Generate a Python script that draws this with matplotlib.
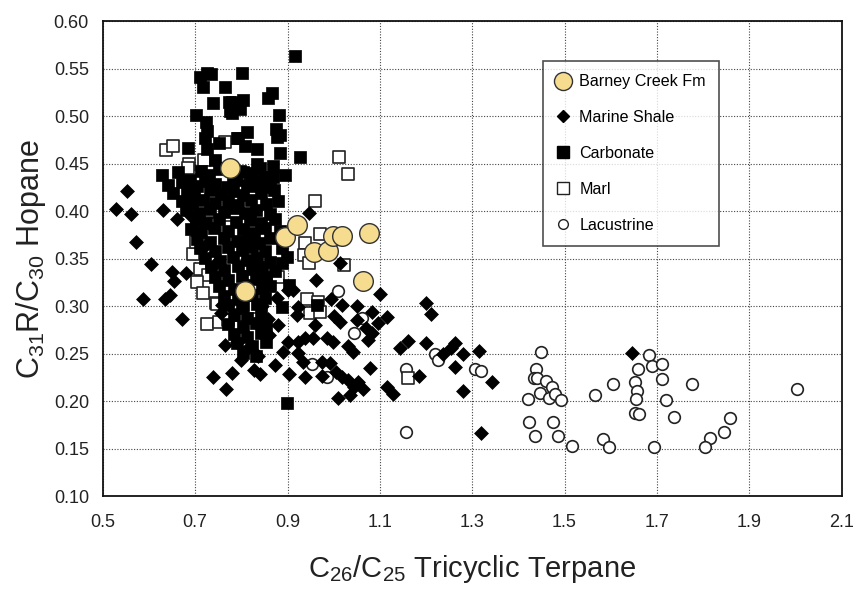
import matplotlib
matplotlib.use("Agg")
import matplotlib.pyplot as plt
from matplotlib.lines import Line2D

plt.rcParams['font.family'] = ['Liberation Sans', 'DejaVu Sans']
plt.rcParams['mathtext.fontset'] = 'custom'
plt.rcParams['mathtext.rm'] = 'Liberation Sans'
plt.rcParams['mathtext.it'] = 'Liberation Sans:italic'
plt.rcParams['mathtext.default'] = 'regular'

# ---- Data: C26/C25 tricyclic terpane vs C31R/C30 hopane ----
barney_x = [0.775, 0.807, 0.894, 0.920, 0.957, 0.987, 0.998, 1.017, 1.076, 1.063]
barney_y = [0.446, 0.316, 0.373, 0.386, 0.357, 0.358, 0.374, 0.374, 0.377, 0.327]

shale_x = [0.528, 0.552, 0.561, 0.571, 0.604, 0.649, 0.680, 0.587, 0.634, 0.645, 0.671,
           0.764, 0.738, 0.779, 0.766, 0.758, 0.755, 0.630, 0.660, 0.655,
           1.100, 1.201, 1.210, 1.115, 1.097, 1.084, 1.143, 1.160, 1.201, 1.255, 1.262,
           1.281, 1.314, 1.236, 1.262, 1.184, 1.115, 1.128, 1.342, 1.281, 1.320, 1.647,
           0.946, 1.013, 0.961, 0.911, 0.900, 0.877, 0.994, 1.050, 1.019, 0.922, 0.857,
           0.920, 1.013, 1.050, 1.071, 1.084, 0.937, 0.955, 0.985, 0.998, 0.900, 0.922,
           0.890, 0.922, 0.933, 0.974, 0.991, 1.006, 1.019, 1.030, 1.045, 1.052, 1.063,
           1.074, 1.078, 1.009, 1.035, 0.937, 0.974, 0.903, 0.872, 0.840, 0.827,
           1.030, 1.042, 0.790, 0.812, 0.835, 0.800, 0.860, 0.880, 0.845, 0.960, 1.000,
           0.700, 0.720, 0.745, 0.690]
shale_y = [0.402, 0.421, 0.397, 0.368, 0.344, 0.336, 0.335, 0.308, 0.308, 0.312, 0.286,
           0.259, 0.225, 0.230, 0.213, 0.301, 0.293, 0.401, 0.392, 0.326,
           0.313, 0.303, 0.292, 0.289, 0.282, 0.294, 0.256, 0.263, 0.261, 0.256, 0.261,
           0.250, 0.253, 0.250, 0.236, 0.226, 0.215, 0.208, 0.220, 0.211, 0.166, 0.251,
           0.398, 0.346, 0.328, 0.317, 0.317, 0.309, 0.308, 0.300, 0.301, 0.299, 0.287,
           0.291, 0.283, 0.285, 0.277, 0.272, 0.266, 0.267, 0.267, 0.262, 0.262, 0.262,
           0.252, 0.251, 0.241, 0.241, 0.240, 0.231, 0.225, 0.222, 0.215, 0.220, 0.213,
           0.264, 0.235, 0.203, 0.206, 0.225, 0.227, 0.229, 0.238, 0.229, 0.233,
           0.258, 0.252, 0.262, 0.255, 0.248, 0.243, 0.270, 0.280, 0.300, 0.280, 0.290,
           0.380, 0.362, 0.345, 0.395]

carb_x = [0.916, 0.710, 0.725, 0.734, 0.716, 0.764, 0.738, 0.773, 0.775, 0.701, 0.723,
          0.725, 0.684, 0.721, 0.751, 0.790, 0.725, 0.742, 0.766, 0.801, 0.866, 0.857,
          0.803, 0.779, 0.797, 0.779, 0.881, 0.874, 0.883, 0.877, 0.812, 0.792, 0.807,
          0.833, 0.883, 0.833, 0.840, 0.868, 0.926, 0.803, 0.818, 0.894, 0.868, 0.829,
          0.851, 0.898,
          0.628, 0.662, 0.688, 0.712, 0.731, 0.752, 0.781, 0.798, 0.823, 0.848,
          0.641, 0.671, 0.703, 0.722, 0.744, 0.768, 0.789, 0.812, 0.834, 0.862,
          0.652, 0.683, 0.698, 0.733, 0.757, 0.781, 0.804, 0.842, 0.871,
          0.672, 0.693, 0.718, 0.743, 0.771, 0.792, 0.821, 0.853, 0.879,
          0.681, 0.709, 0.733, 0.762, 0.784, 0.808, 0.832, 0.861,
          0.702, 0.724, 0.751, 0.788, 0.819, 0.843, 0.872,
          0.692, 0.713, 0.741, 0.772, 0.803, 0.828, 0.851, 0.884,
          0.704, 0.732, 0.763, 0.791, 0.814, 0.838, 0.861,
          0.711, 0.744, 0.772, 0.801, 0.822, 0.852, 0.887,
          0.722, 0.753, 0.781, 0.812, 0.834, 0.861, 0.887,
          0.734, 0.762, 0.793, 0.822, 0.844, 0.872,
          0.743, 0.771, 0.802, 0.831, 0.853,
          0.752, 0.783, 0.811, 0.844, 0.861, 0.903,
          0.762, 0.793, 0.822, 0.851,
          0.771, 0.802, 0.834, 0.887, 0.963, 0.803,
          0.783, 0.813, 0.842,
          0.772, 0.804, 0.831, 0.854,
          0.783, 0.812, 0.843,
          0.791, 0.822, 0.853,
          0.803, 0.832, 0.898]
carb_y = [0.563, 0.541, 0.546, 0.545, 0.531, 0.531, 0.514, 0.515, 0.506, 0.501, 0.494,
          0.485, 0.467, 0.477, 0.472, 0.477, 0.466, 0.454, 0.445, 0.546, 0.524, 0.519,
          0.517, 0.515, 0.508, 0.503, 0.501, 0.487, 0.480, 0.478, 0.483, 0.477, 0.469,
          0.466, 0.461, 0.450, 0.446, 0.448, 0.457, 0.441, 0.440, 0.438, 0.436, 0.427,
          0.425, 0.352,
          0.438, 0.441, 0.433, 0.442, 0.438, 0.444, 0.437, 0.442, 0.439, 0.436,
          0.428, 0.431, 0.427, 0.432, 0.429, 0.426, 0.433, 0.428, 0.431, 0.427,
          0.419, 0.421, 0.417, 0.422, 0.418, 0.421, 0.417, 0.419, 0.422,
          0.411, 0.408, 0.412, 0.409, 0.411, 0.407, 0.412, 0.408, 0.411,
          0.401, 0.398, 0.402, 0.399, 0.403, 0.398, 0.401, 0.397,
          0.391, 0.388, 0.392, 0.389, 0.391, 0.388, 0.392,
          0.381, 0.378, 0.382, 0.379, 0.381, 0.377, 0.382, 0.379,
          0.371, 0.368, 0.372, 0.369, 0.371, 0.367, 0.372,
          0.361, 0.358, 0.362, 0.359, 0.362, 0.358, 0.361,
          0.351, 0.348, 0.352, 0.349, 0.351, 0.347, 0.346,
          0.341, 0.338, 0.342, 0.339, 0.341, 0.337,
          0.331, 0.328, 0.332, 0.329, 0.331,
          0.321, 0.318, 0.322, 0.319, 0.321, 0.322,
          0.311, 0.308, 0.312, 0.309,
          0.301, 0.298, 0.302, 0.299, 0.301, 0.301,
          0.291, 0.288, 0.292,
          0.281, 0.278, 0.282, 0.279,
          0.271, 0.268, 0.272,
          0.261, 0.258, 0.262,
          0.251, 0.248, 0.198]

marl_x = [0.636, 0.652, 0.686, 0.684, 0.719, 0.764, 1.011, 1.032, 0.695, 0.701, 0.710,
          0.727, 0.703, 0.716, 0.745, 0.725, 0.740, 0.749, 0.727, 0.742, 0.768, 0.959,
          0.970, 0.937, 0.935, 0.946, 1.022, 0.879, 0.942, 0.965, 0.822, 0.792, 0.948,
          0.970, 0.814, 0.751, 0.771, 0.747, 1.160]
marl_y = [0.465, 0.469, 0.450, 0.446, 0.454, 0.473, 0.457, 0.439, 0.355, 0.368, 0.339,
          0.333, 0.325, 0.314, 0.303, 0.281, 0.349, 0.339, 0.388, 0.387, 0.383, 0.411,
          0.376, 0.367, 0.354, 0.346, 0.343, 0.331, 0.308, 0.304, 0.299, 0.291, 0.293,
          0.294, 0.343, 0.283, 0.285, 0.302, 0.224]

lac_x = [1.156, 1.156, 1.219, 1.225, 1.307, 1.320, 1.009, 1.061, 1.045, 0.952, 0.985,
         1.450, 1.439, 1.433, 1.441, 1.459, 1.472, 1.446, 1.467, 1.480, 1.493, 1.420,
         1.424, 1.474, 1.435, 1.485, 1.517, 1.565, 1.606, 1.584, 1.597, 1.682, 1.690,
         1.710, 1.660, 1.652, 1.658, 1.654, 1.652, 1.662, 1.710, 1.719, 1.738, 1.693,
         1.777, 2.004, 1.859, 1.846, 1.814, 1.805]
lac_y = [0.168, 0.234, 0.250, 0.243, 0.234, 0.232, 0.316, 0.288, 0.272, 0.239, 0.225,
         0.252, 0.234, 0.224, 0.224, 0.221, 0.215, 0.209, 0.203, 0.207, 0.201, 0.202,
         0.178, 0.178, 0.163, 0.163, 0.153, 0.206, 0.218, 0.160, 0.152, 0.249, 0.237,
         0.239, 0.234, 0.220, 0.211, 0.202, 0.187, 0.186, 0.223, 0.201, 0.183, 0.152,
         0.218, 0.213, 0.182, 0.167, 0.161, 0.152]

x_ticks = [0.5, 0.7, 0.9, 1.1, 1.3, 1.5, 1.7, 1.9, 2.1]
y_ticks = [0.10, 0.15, 0.20, 0.25, 0.30, 0.35, 0.40, 0.45, 0.50, 0.55, 0.60]

fig = plt.figure(figsize=(8.57, 5.92), dpi=100)
ax = fig.add_axes([0.120, 0.162, 0.862, 0.802])

ax.scatter(lac_x, lac_y, s=70, marker='o', facecolors='white', edgecolors='#222222',
           linewidths=1.2, zorder=3)
ax.scatter(marl_x, marl_y, s=70, marker='s', facecolors='white', edgecolors='#222222',
           linewidths=1.2, zorder=3)
ax.scatter(carb_x, carb_y, s=75, marker='s', facecolors='black', edgecolors='black',
           linewidths=0.5, zorder=4)
ax.scatter(shale_x, shale_y, s=50, marker='D', facecolors='black', edgecolors='black',
           linewidths=0.5, zorder=4)
ax.scatter(barney_x, barney_y, s=200, marker='o', facecolors='#F6DC8E',
           edgecolors='#333333', linewidths=1.0, zorder=6)

ax.set_xlim(0.5, 2.1)
ax.set_ylim(0.10, 0.60)
ax.set_xticks(x_ticks)
ax.set_xticklabels([f"{v:.1f}" for v in x_ticks])
ax.set_yticks(y_ticks)
ax.set_yticklabels([f"{v:.2f}" for v in y_ticks])
ax.tick_params(length=0, labelsize=13, colors='#222222')
ax.tick_params(axis='x', pad=13)
ax.tick_params(axis='y', pad=10)
ax.grid(True, linestyle=(0, (1, 1.5)), color='#444444', linewidth=0.8)
ax.set_axisbelow(True)
for sp in ax.spines.values():
    sp.set_linewidth(1.3)
    sp.set_color('#111111')

ax.set_xlabel(r'C$_{26}$/C$_{25}$ Tricyclic Terpane', fontsize=21, color='#222222', labelpad=16)
ax.set_ylabel(r'C$_{31}$R/C$_{30}$ Hopane', fontsize=22, color='#222222', labelpad=4)

handles = [
    Line2D([], [], marker='o', linestyle='none', markersize=13, markerfacecolor='#F6DC8E',
           markeredgecolor='#333333', label='Barney Creek Fm'),
    Line2D([], [], marker='D', linestyle='none', markersize=6, markerfacecolor='black',
           markeredgecolor='black', label='Marine Shale'),
    Line2D([], [], marker='s', linestyle='none', markersize=8, markerfacecolor='black',
           markeredgecolor='black', label='Carbonate'),
    Line2D([], [], marker='s', linestyle='none', markersize=8, markerfacecolor='white',
           markeredgecolor='#222222', label='Marl'),
    Line2D([], [], marker='o', linestyle='none', markersize=7, markerfacecolor='white',
           markeredgecolor='#222222', label='Lacustrine'),
]
leg = ax.legend(handles=handles, loc='upper left', bbox_to_anchor=(0.5954, 0.9158),
                fontsize=11.6, frameon=True, fancybox=False, edgecolor='#222222',
                labelspacing=1.3, handletextpad=0.53, borderpad=0.8, handlelength=0.95,
                borderaxespad=0)
leg.get_frame().set_linewidth(1.2)
leg.set_zorder(10)

fig.savefig('out.png', dpi=100, facecolor='white')
